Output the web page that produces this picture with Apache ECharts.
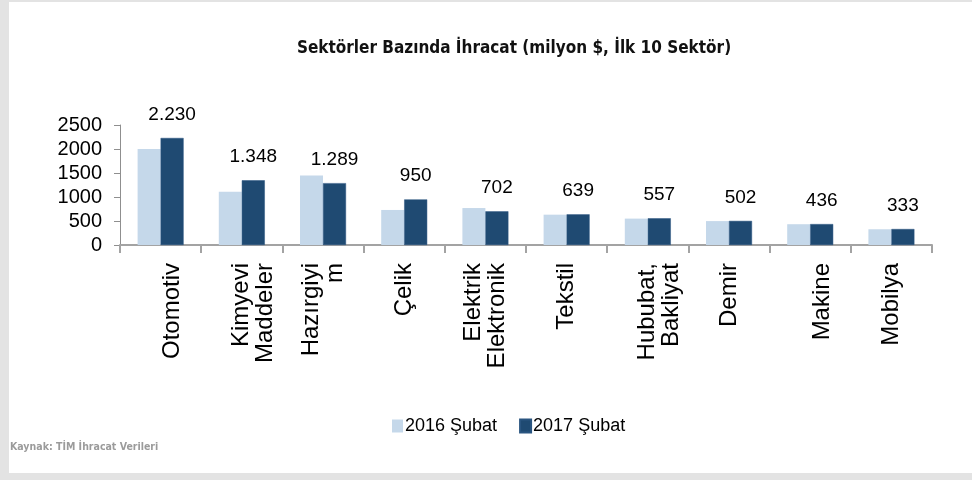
<!DOCTYPE html>
<html>
<head>
<meta charset="utf-8">
<script src="https://cdn.jsdelivr.net/npm/echarts@6/dist/echarts.min.js"></script>
<style>
html,body{margin:0;padding:0;background:#fff;}
#chart{width:972px;height:480px;}
</style>
</head>
<body>
<div id="chart"></div>
<script>
const categories = ["Otomotiv", "Kimyevi\nMaddeler", "Hazırgiyi\nm", "Çelik", "Elektrik\nElektronik", "Tekstil", "Hububat,\nBakliyat", "Demir", "Makine", "Mobilya"];
const series2016 = [2000, 1110, 1450, 730, 770, 632, 550, 498, 433, 328];
const series2017 = [2230, 1348, 1289, 950, 702, 639, 557, 502, 436, 333];
const seriesNames = ["2016 Şubat", "2017 Şubat"];
const yTicks = [0, 500, 1000, 1500, 2000, 2500];

const condensed = '"DejaVu Sans Condensed", "Liberation Sans", sans-serif';
const regular = '"Liberation Sans", Arial, sans-serif';
// categories whose rotated label Excel placed half a line to the right
const shiftedLabelIdx = new Set([0, 1, 6, 8]);

const chart = echarts.init(document.getElementById('chart'), null, {renderer: 'canvas'});

const option = {
  backgroundColor: '#e3e3e3',
  animation: false,
  title: {
    text: 'Sektörler Bazında İhracat (milyon $, İlk 10 Sektör)',
    left: 509,
    textAlign: 'center',
    top: 35,
    textStyle: { fontFamily: condensed, fontWeight: 'bold', fontSize: 17, color: '#111111' }
  },
  graphic: [
    { type: 'rect', z: -10, silent: true, shape: { x: 9, y: 2, width: 963, height: 471 }, style: { fill: '#ffffff' } },
    { type: 'text', z: 10, left: 10, top: 442, style: { text: 'Kaynak: TİM İhracat Verileri', fill: '#9b9b9b', font: 'bold 10.5px ' + condensed } }
  ],
  legend: {
    data: seriesNames,
    left: 387,
    top: 412,
    icon: 'rect',
    itemWidth: 11,
    itemHeight: 13,
    itemGap: 22,
    textStyle: { fontFamily: regular, fontSize: 18, color: '#000', padding: [0, 0, 0, -3] }
  },
  grid: { left: 120, right: 40, top: 125, bottom: 235, containLabel: false },
  xAxis: {
    type: 'category',
    data: categories,
    axisLine: { show: true, lineStyle: { color: '#a3a3a3', width: 2 } },
    axisTick: { show: true, length: 8, lineStyle: { color: '#a3a3a3', width: 2 } },
    axisLabel: {
      interval: 0,
      rotate: 90,
      margin: 18,
      fontFamily: regular,
      fontSize: 24,
      lineHeight: 24,
      color: '#000',
      formatter: (v, i) => shiftedLabelIdx.has(i) ? '\n' + v : v
    }
  },
  yAxis: {
    type: 'value',
    min: 0,
    max: 2500,
    interval: 500,
    axisLine: { show: true, lineStyle: { color: '#8f8f8f', width: 1 } },
    axisTick: { show: true, length: 6, lineStyle: { color: '#8f8f8f' } },
    splitLine: { show: false },
    axisLabel: {
      margin: 18,
      fontFamily: regular,
      fontSize: 20,
      color: '#000',
      formatter: v => yTicks.includes(v) ? String(v) : ''
    }
  },
  series: [
    {
      name: seriesNames[0],
      type: 'bar',
      data: series2016,
      barWidth: 23,
      barGap: '0%',
      itemStyle: { color: '#c5d8ea' }
    },
    {
      name: seriesNames[1],
      type: 'bar',
      data: series2017,
      barWidth: 23,
      itemStyle: { color: '#1f4a72', borderColor: '#2a5580', borderWidth: 0.5 },
      label: {
        show: true,
        position: 'top',
        distance: 14,
        fontFamily: regular,
        fontSize: 19,
        color: '#000',
        formatter: p => p.value >= 1000 ? Math.floor(p.value / 1000) + '.' + String(p.value % 1000).padStart(3, '0') : String(p.value)
      }
    }
  ]
};
chart.setOption(option);
</script>
</body>
</html>
